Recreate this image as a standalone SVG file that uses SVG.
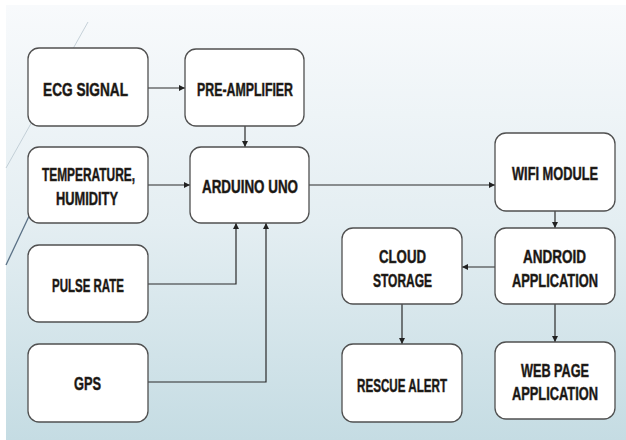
<svg xmlns="http://www.w3.org/2000/svg" width="626" height="440" viewBox="0 0 626 440">
<defs>
<linearGradient id="bg" x1="0" y1="0" x2="0" y2="1">
<stop offset="0" stop-color="#f8fafc"/>
<stop offset="0.5" stop-color="#e4eef2"/>
<stop offset="1" stop-color="#c5dce3"/>
</linearGradient>
<marker id="arr" viewBox="0 0 10 10" refX="10" refY="5" markerWidth="6" markerHeight="6" markerUnits="userSpaceOnUse" orient="auto">
<path d="M0,0 L10,5 L0,10 z" fill="#222"/>
</marker>
</defs>
<style>
.box{fill:#ffffff;stroke:#505050;stroke-width:1.3}
.t{font-family:"Liberation Sans","DejaVu Sans",sans-serif;font-weight:bold;font-size:18px;fill:#141414;stroke:#3b3024;stroke-width:0.5;text-anchor:middle}
.c{fill:none;stroke:#2a2a2a;stroke-width:1.2}
</style>
<rect x="0" y="0" width="626" height="440" fill="#ffffff"/>
<rect x="6" y="5" width="620" height="435" fill="url(#bg)"/>
<line x1="88" y1="22" x2="6" y2="168" stroke="#b9c6cf" stroke-width="0.8"/>
<line x1="31" y1="212" x2="6" y2="265" stroke="#5a7186" stroke-width="1.3"/>

<g id="connectors">
<path class="c" d="M148,88 H185" marker-end="url(#arr)"/>
<path class="c" d="M245,126 V147" marker-end="url(#arr)"/>
<path class="c" d="M148,185 H190" marker-end="url(#arr)"/>
<path class="c" d="M148,284 H236 V223" marker-end="url(#arr)"/>
<path class="c" d="M148,382 H266 V223" marker-end="url(#arr)"/>
<path class="c" d="M309,185 H495" marker-end="url(#arr)"/>
<path class="c" d="M555,211 V228" marker-end="url(#arr)"/>
<path class="c" d="M495,267 H462" marker-end="url(#arr)"/>
<path class="c" d="M402,304 V344" marker-end="url(#arr)"/>
<path class="c" d="M555,304 V342" marker-end="url(#arr)"/>
</g>

<g id="ecg">
<rect class="box" x="28" y="48" width="120" height="78" rx="11"/>
<text class="t" transform="translate(85.5,96) scale(0.75,1)" textLength="113.3" lengthAdjust="spacingAndGlyphs">ECG SIGNAL</text>
</g>
<g id="preamp">
<rect class="box" x="185" y="49" width="119" height="77" rx="11"/>
<text class="t" transform="translate(245,96) scale(0.75,1)" textLength="128" lengthAdjust="spacingAndGlyphs">PRE-AMPLIFIER</text>
</g>
<g id="temp">
<rect class="box" x="28" y="147" width="120" height="76" rx="11"/>
<text class="t" transform="translate(88.5,181) scale(0.75,1)" textLength="124" lengthAdjust="spacingAndGlyphs">TEMPERATURE,</text>
<text class="t" transform="translate(87,205) scale(0.75,1)" textLength="82.7" lengthAdjust="spacingAndGlyphs">HUMIDITY</text>
</g>
<g id="arduino">
<rect class="box" x="190" y="147" width="119" height="76" rx="11"/>
<text class="t" transform="translate(250,193) scale(0.75,1)" textLength="128" lengthAdjust="spacingAndGlyphs">ARDUINO UNO</text>
</g>
<g id="wifi">
<rect class="box" x="495" y="133" width="120" height="78" rx="11"/>
<text class="t" transform="translate(555,180) scale(0.75,1)" textLength="114.7" lengthAdjust="spacingAndGlyphs">WIFI MODULE</text>
</g>
<g id="pulse">
<rect class="box" x="28" y="245" width="120" height="77" rx="11"/>
<text class="t" transform="translate(88,292) scale(0.75,1)" textLength="96" lengthAdjust="spacingAndGlyphs">PULSE RATE</text>
</g>
<g id="gps">
<rect class="box" x="28" y="344" width="120" height="78" rx="11"/>
<text class="t" transform="translate(87.5,390) scale(0.75,1)" textLength="36" lengthAdjust="spacingAndGlyphs">GPS</text>
</g>
<g id="cloud">
<rect class="box" x="342" y="228" width="120" height="76" rx="11"/>
<text class="t" transform="translate(402.5,263) scale(0.75,1)" textLength="62.7" lengthAdjust="spacingAndGlyphs">CLOUD</text>
<text class="t" transform="translate(402.5,287) scale(0.75,1)" textLength="78.7" lengthAdjust="spacingAndGlyphs">STORAGE</text>
</g>
<g id="android">
<rect class="box" x="495" y="228" width="120" height="76" rx="11"/>
<text class="t" transform="translate(554.5,263) scale(0.75,1)" textLength="84" lengthAdjust="spacingAndGlyphs">ANDROID</text>
<text class="t" transform="translate(555,287) scale(0.75,1)" textLength="114.7" lengthAdjust="spacingAndGlyphs">APPLICATION</text>
</g>
<g id="rescue">
<rect class="box" x="342" y="344" width="120" height="78" rx="11"/>
<text class="t" transform="translate(402,392) scale(0.75,1)" textLength="120" lengthAdjust="spacingAndGlyphs">RESCUE ALERT</text>
</g>
<g id="webpage">
<rect class="box" x="495" y="342" width="120" height="77" rx="11"/>
<text class="t" transform="translate(555,377) scale(0.75,1)" textLength="90.7" lengthAdjust="spacingAndGlyphs">WEB PAGE</text>
<text class="t" transform="translate(555,400) scale(0.75,1)" textLength="114.7" lengthAdjust="spacingAndGlyphs">APPLICATION</text>
</g>
</svg>
